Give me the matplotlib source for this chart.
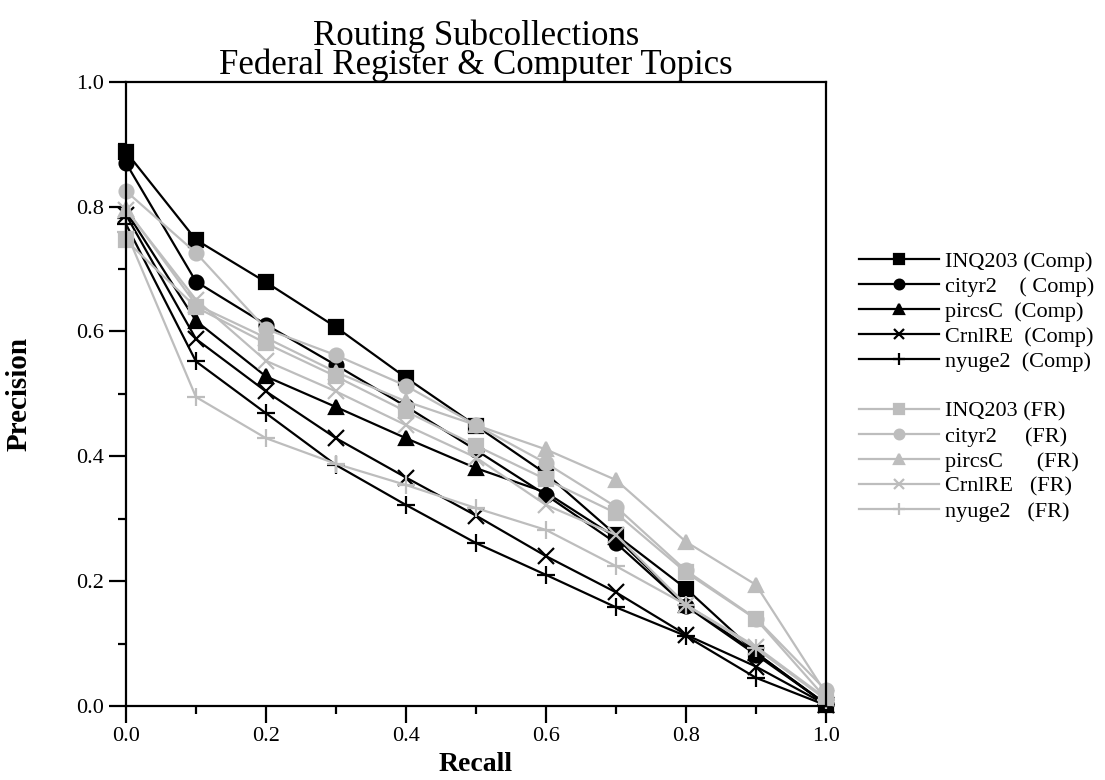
import numpy as np
import matplotlib
matplotlib.use("Agg")
from matplotlib import pyplot as plt
from matplotlib.lines import Line2D
from matplotlib.ticker import MultipleLocator, FormatStrFormatter

plt.rcParams['font.family'] = ['Liberation Serif', 'DejaVu Serif']

recall = [0.0, 0.1, 0.2, 0.3, 0.4, 0.5, 0.6, 0.7, 0.8, 0.9, 1.0]

# Computer topics (black)
inq_comp = [0.888, 0.747, 0.679, 0.607, 0.526, 0.449, 0.372, 0.274, 0.188, 0.085, 0.003]
city_comp = [0.870, 0.680, 0.611, 0.546, 0.480, 0.410, 0.338, 0.261, 0.160, 0.082, 0.003]
pircs_comp = [0.793, 0.617, 0.528, 0.479, 0.429, 0.381, 0.342, 0.270, 0.162, 0.085, 0.002]
crnl_comp = [0.787, 0.588, 0.504, 0.429, 0.366, 0.305, 0.240, 0.182, 0.114, 0.063, 0.002]
nyu_comp = [0.772, 0.552, 0.469, 0.386, 0.322, 0.261, 0.210, 0.158, 0.112, 0.045, 0.001]

# Federal Register (grey)
inq_fr = [0.746, 0.639, 0.581, 0.528, 0.472, 0.417, 0.363, 0.309, 0.214, 0.139, 0.012]
city_fr = [0.825, 0.726, 0.604, 0.562, 0.513, 0.450, 0.389, 0.319, 0.217, 0.140, 0.025]
pircs_fr = [0.797, 0.643, 0.590, 0.535, 0.488, 0.450, 0.411, 0.362, 0.263, 0.194, 0.020]
crnl_fr = [0.795, 0.651, 0.553, 0.504, 0.450, 0.398, 0.322, 0.274, 0.162, 0.095, 0.012]
nyu_fr = [0.760, 0.495, 0.429, 0.388, 0.354, 0.317, 0.282, 0.224, 0.162, 0.092, 0.010]

comp_labels = ["INQ203 (Comp)", "cityr2    ( Comp)", "pircsC  (Comp)",
               "CrnlRE  (Comp)", "nyuge2  (Comp)"]
fr_labels = ["INQ203 (FR)", "cityr2     (FR)", "pircsC      (FR)",
             "CrnlRE   (FR)", "nyuge2   (FR)"]

comp = [inq_comp, city_comp, pircs_comp, crnl_comp, nyu_comp]
fr = [inq_fr, city_fr, pircs_fr, crnl_fr, nyu_fr]
markers = ['s', 'o', '^', 'x', '+']
msizes = [10, 10, 10, 11, 13]
grey = '#bdbdbd'

fig = plt.figure(figsize=(11.05, 7.8), dpi=100)
ax = fig.add_axes([0.114, 0.095, 0.6335, 0.8])

handles = []
for ys, m, ms, lab in zip(comp, markers, msizes, comp_labels):
    h, = ax.plot(recall, ys, color='black', lw=1.6, marker=m, ms=ms,
                 mew=1.6, label=lab, clip_on=False)
    handles.append(h)
handles.append(Line2D([], [], color='none', label=' '))
for ys, m, ms, lab in zip(fr, markers, msizes, fr_labels):
    h, = ax.plot(recall, ys, color=grey, lw=1.6, marker=m, ms=ms,
                 mew=1.6, label=lab, clip_on=False)
    handles.append(h)

ax.set_xlim(0, 1)
ax.set_ylim(0, 1)
ax.xaxis.set_major_locator(MultipleLocator(0.2))
ax.xaxis.set_minor_locator(MultipleLocator(0.1))
ax.yaxis.set_major_locator(MultipleLocator(0.2))
ax.yaxis.set_minor_locator(MultipleLocator(0.1))
ax.xaxis.set_major_formatter(FormatStrFormatter('%.1f'))
ax.yaxis.set_major_formatter(FormatStrFormatter('%.1f'))
ax.tick_params(which='major', direction='out', length=12, width=1.6, labelsize=16)
ax.tick_params(which='minor', direction='out', length=6, width=1.6)
for s in ax.spines.values():
    s.set_linewidth(1.6)

ax.set_xlabel("Recall", fontsize=20, fontweight='bold', labelpad=4)
ax.set_ylabel("Precision", fontsize=21, fontweight='bold', labelpad=32)
ax.set_title("Routing Subcollections\nFederal Register & Computer Topics",
             fontsize=25, linespacing=0.8, pad=6)

ax.legend(handles=handles, loc='center left', bbox_to_anchor=(1.018, 0.512),
          frameon=False, fontsize=16, markerscale=0.7, handlelength=3.6,
          labelspacing=0.2, handletextpad=0.3)

fig.savefig("out.png", dpi=100)
